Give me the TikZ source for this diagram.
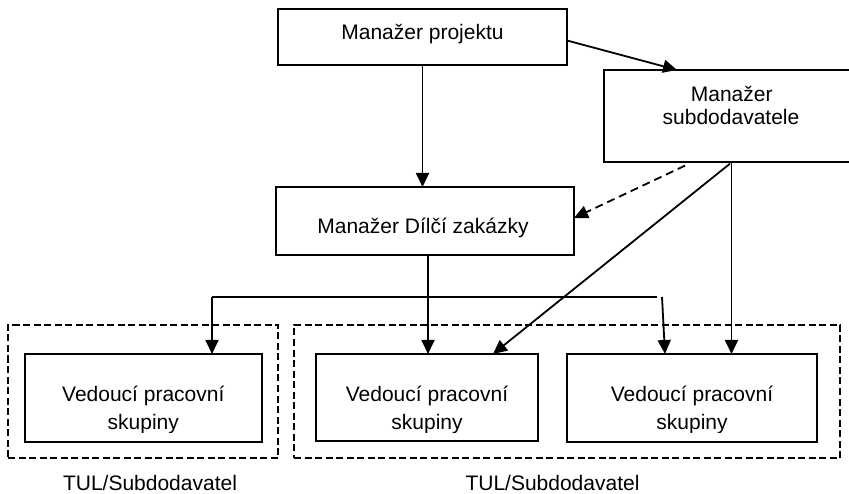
\documentclass[tikz,border=0pt]{standalone}
\usepackage{fontspec}
\setmainfont{Liberation Sans}
\usetikzlibrary{arrows.meta,calc}
\begin{document}
\begin{tikzpicture}[x=1pt,y=-1pt,
  box/.style={draw, line width=2pt, inner sep=0pt, outer sep=0pt},
  grp/.style={draw, line width=2.8pt, dash pattern=on 7pt off 3.5pt, inner sep=0pt, outer sep=0pt},
  txt/.style={anchor=base, inner sep=0pt, font=\fontsize{21}{25}\selectfont},
  arr/.style={line width=1.8pt, -{Triangle[length=14pt,width=13pt]}},
  dasharr/.style={arr, dash pattern=on 8pt off 5pt},
  thinline/.style={line width=1.2pt}
]
\useasboundingbox (0,0) rectangle (849,494);
\clip (0,0) rectangle (849,494);

% boxes
\node[box, minimum width=289, minimum height=56] (pm) at (422.5,37) {};
\node[box, minimum width=255, minimum height=91.7] (ms) at (731.5,115.8) {};
\node[box, minimum width=298, minimum height=68] (md) at (425,221) {};
\node[grp, minimum width=270, minimum height=133] (dl) at (143,391.5) {};
\node[grp, minimum width=546, minimum height=133] (dr) at (567,391.5) {};
\node[box, minimum width=237, minimum height=88] (v1) at (143.5,398) {};
\node[box, minimum width=222, minimum height=87] (v2) at (427,397.5) {};
\node[box, minimum width=250, minimum height=88] (v3) at (692,398) {};

% texts
\node[txt] (tpm) at (422.5,40) {Manažer projektu};
\node[txt] (tms1) at (731.7,101.7) {Manažer};
\node[txt] (tms2) at (731,125) {subdodavatele};
\node[txt] (tmd) at (423,234) {Manažer Dílčí zakázky};
\node[txt] (tv1a) at (143.3,401.7) {Vedoucí pracovní};
\node[txt] (tv2a) at (427,401.7) {Vedoucí pracovní};
\node[txt] (tv3a) at (692,401.7) {Vedoucí pracovní};
\begin{scope}
\clip (0,0) rectangle (849,432.5);
\node[txt] (tv1b) at (143.3,429.3) {skupiny};
\node[txt] (tv2b) at (427,429.3) {skupiny};
\node[txt] (tv3b) at (692,429.3) {skupiny};
\end{scope}
\node[txt] (tl1) at (150,490) {TUL/Subdodavatel};
\node[txt] (tl2) at (552.5,490) {TUL/Subdodavatel};

% connectors
\draw[arr] ($(pm.east)+(0,3.5)$) -- ($(ms.north west)+(73,0)$);
\draw[arr] (pm.south) -- (pm.south |- md.north);
\draw[dasharr] ($(ms.south west)+(81,4)$) -- ($(md.east)+(0,-3)$);
\draw[arr] ($(ms.south west)+(126,2)$) -- ($(v2.north)+(66,0)$);
\draw[arr] (ms.south) -- (ms.south |- v3.north);
\draw[arr] ([xshift=3pt]md.south) -- ([xshift=3pt]md.south |- v2.north);

\coordinate (br1) at (212,297);
\coordinate (br2) at (657,297);
\coordinate (br3) at (662,297);
\draw[thinline] (br1) -- (br2);
\draw[arr] (br1) -- (br1 |- v1.north);
\draw[arr] (br3) -- ($(v3.north)+(-27,0)$);
\end{tikzpicture}
\end{document}
